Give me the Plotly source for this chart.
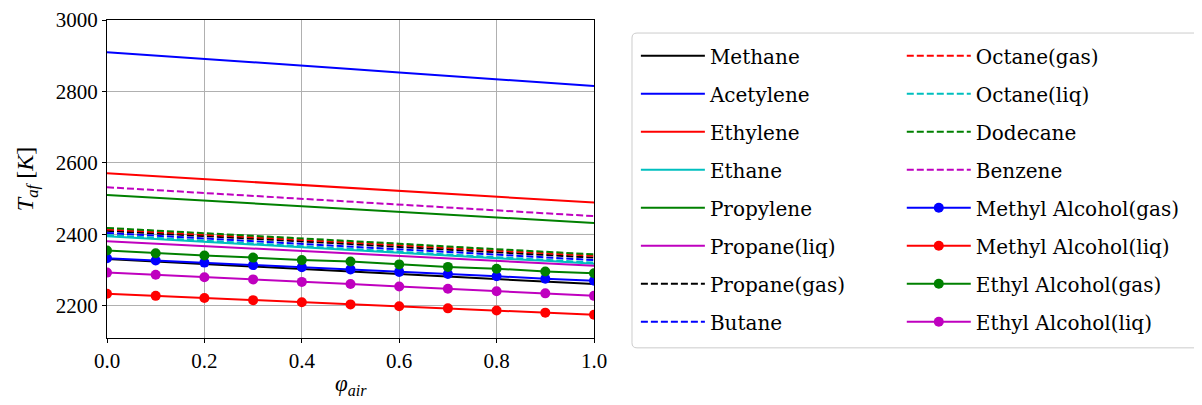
import plotly.graph_objects as go

phi = [0.0, 0.1, 0.2, 0.3, 0.4, 0.5, 0.6, 0.7, 0.8, 0.9, 1.0]

methane = [2331, 2324, 2317, 2310, 2303, 2296, 2289, 2282, 2275, 2268, 2261]
acetylene = [2910, 2901, 2891, 2882, 2872, 2863, 2853, 2843, 2834, 2824, 2815]
ethylene = [2571, 2563, 2555, 2546, 2538, 2530, 2522, 2514, 2506, 2497, 2489]
ethane = [2395, 2387, 2380, 2372, 2364, 2357, 2349, 2341, 2333, 2326, 2318]
propylene = [2510, 2502, 2494, 2487, 2479, 2471, 2463, 2455, 2447, 2440, 2432]
propane_liq = [2381, 2374, 2367, 2360, 2353, 2347, 2340, 2333, 2326, 2319, 2312]
propane_gas = [2410, 2403, 2395, 2388, 2380, 2373, 2365, 2358, 2350, 2343, 2335]
butane = [2404, 2396, 2389, 2381, 2374, 2366, 2358, 2351, 2343, 2336, 2328]
octane_gas = [2414, 2407, 2399, 2392, 2384, 2377, 2370, 2362, 2355, 2347, 2340]
octane_liq = [2398, 2390, 2383, 2375, 2367, 2360, 2352, 2344, 2336, 2329, 2321]
dodecane = [2418, 2411, 2403, 2396, 2388, 2381, 2374, 2366, 2359, 2351, 2344]
benzene = [2532, 2524, 2516, 2508, 2500, 2492, 2483, 2475, 2467, 2459, 2451]
methyl_gas = [2333, 2327, 2321, 2314, 2308, 2302, 2295, 2289, 2283, 2276, 2270]
methyl_liq = [2234, 2228, 2222, 2216, 2210, 2204, 2199, 2193, 2187, 2181, 2175]
ethyl_gas = [2355, 2347, 2341, 2335, 2328, 2324, 2316, 2309, 2304, 2296, 2291]
ethyl_liq = [2293, 2287, 2280, 2274, 2267, 2261, 2254, 2248, 2241, 2235, 2228]

x_ticks = [0.0, 0.2, 0.4, 0.6, 0.8, 1.0]
y_ticks = [2200, 2400, 2600, 2800, 3000]

K, B, R, C, G, M = "#000000", "#0000ff", "#ff0000", "#00bfbf", "#008000", "#bf00bf"

series = [
    ("Methane", methane, K, "solid", False, "legend"),
    ("Acetylene", acetylene, B, "solid", False, "legend"),
    ("Ethylene", ethylene, R, "solid", False, "legend"),
    ("Ethane", ethane, C, "solid", False, "legend"),
    ("Propylene", propylene, G, "solid", False, "legend"),
    ("Propane(liq)", propane_liq, M, "solid", False, "legend"),
    ("Propane(gas)", propane_gas, K, "dash", False, "legend"),
    ("Butane", butane, B, "dash", False, "legend"),
    ("Octane(gas)", octane_gas, R, "dash", False, "legend2"),
    ("Octane(liq)", octane_liq, C, "dash", False, "legend2"),
    ("Dodecane", dodecane, G, "dash", False, "legend2"),
    ("Benzene", benzene, M, "dash", False, "legend2"),
    ("Methyl Alcohol(gas)", methyl_gas, B, "solid", True, "legend2"),
    ("Methyl Alcohol(liq)", methyl_liq, R, "solid", True, "legend2"),
    ("Ethyl Alcohol(gas)", ethyl_gas, G, "solid", True, "legend2"),
    ("Ethyl Alcohol(liq)", ethyl_liq, M, "solid", True, "legend2"),
]

fig = go.Figure()
for name, vals, col, dash, mk, leg in series:
    fig.add_trace(go.Scatter(
        x=phi, y=vals, name=name, legend=leg, legendgroup=name,
        mode="lines+markers" if mk else "lines",
        line=dict(color=col, width=2, dash="7px,3px" if dash == "dash" else "solid"),
        marker=dict(color=col, size=10) if mk else None,
    ))

FONT = "Liberation Serif"
LEG_FONT = "DejaVu Serif"
axis_common = dict(
    showline=True, linecolor="#000000", linewidth=1, mirror=True,
    ticks="outside", ticklen=4, tickcolor="#000000",
    showgrid=True, gridcolor="#b0b0b0", gridwidth=1, zeroline=False,
    automargin=False,
    tickfont=dict(family=FONT, size=21, color="#000000"),
)

legend_common = dict(
    xanchor="left", yanchor="top", y=0.949,
    bgcolor="rgba(0,0,0,0)", borderwidth=0,
    font=dict(family=LEG_FONT, size=20, color="#000000"),
    tracegroupgap=9, itemwidth=64, maxheight=420,
)

# rounded legend frame, in paper units
PW, PH = 487.0, 318.0
fx0, fx1, fy0, fy1 = 1.078, 2.244, -0.031, 0.959
rx, ry = 5 / PW, 5 / PH
frame_path = (
    f"M {fx0 + rx} {fy1} L {fx1 - rx} {fy1} Q {fx1} {fy1} {fx1} {fy1 - ry} "
    f"L {fx1} {fy0 + ry} Q {fx1} {fy0} {fx1 - rx} {fy0} "
    f"L {fx0 + rx} {fy0} Q {fx0} {fy0} {fx0} {fy0 + ry} "
    f"L {fx0} {fy1 - ry} Q {fx0} {fy1} {fx0 + rx} {fy1} Z"
)

# body has an 8px default margin, so the figure is 8px smaller and margins shifted
fig.update_layout(
    width=1194, height=397,
    margin=dict(l=99, r=608, t=12, b=67),
    paper_bgcolor="white", plot_bgcolor="white",
    font=dict(family=FONT, color="#000000", size=21),
    xaxis=dict(range=[0, 1], tickvals=x_ticks, tickformat=".1f", **axis_common),
    yaxis=dict(range=[2110, 3000], tickvals=y_ticks,
               title=dict(text="<i>T</i><sub><i>af</i></sub> [<i>K</i>]", font=dict(family=FONT, size=24)),
               **axis_common),
    legend=dict(x=1.086, **legend_common),
    legend2=dict(x=1.632, **legend_common),
    shapes=[dict(type="path", xref="paper", yref="paper", path=frame_path,
                 line=dict(color="#cccccc", width=1), fillcolor="rgba(0,0,0,0)", layer="below")],
    annotations=[dict(text="<i>φ</i><sub><i>air</i></sub>", xref="paper", yref="paper",
                      x=0.5, y=-0.148, xanchor="center", yanchor="middle", showarrow=False,
                      font=dict(family=FONT, size=23, color="#000000"))],
)

fig.write_html("out.html")
